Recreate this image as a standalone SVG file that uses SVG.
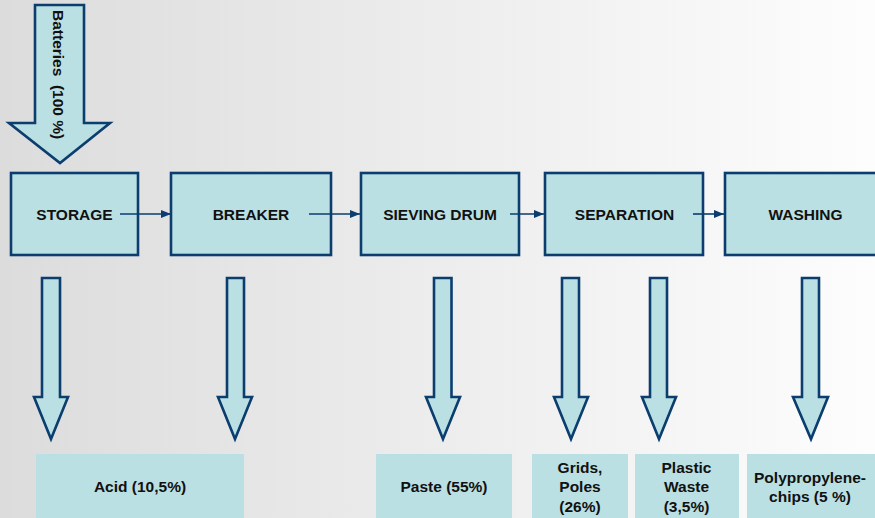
<svg xmlns="http://www.w3.org/2000/svg" width="875" height="518" viewBox="0 0 875 518">
<defs>
<linearGradient id="bg" x1="0" y1="0" x2="1" y2="0">
<stop offset="0" stop-color="#dcdcdc"/>
<stop offset="0.45" stop-color="#ebebeb"/>
<stop offset="1" stop-color="#fdfdfd"/>
</linearGradient>
<marker id="ah" markerWidth="10" markerHeight="8" refX="10" refY="4" orient="auto" markerUnits="userSpaceOnUse">
<path d="M0,0 L10,4 L0,8 Z" fill="#0b3d6e"/>
</marker>
<style>
.box{fill:#bbe0e3;stroke:#0b3d6e;stroke-width:2.6}
.out{fill:#bbe0e3;stroke:none}
.arr{fill:#bbe0e3;stroke:#0b3d6e;stroke-width:2.6;stroke-linejoin:miter}
.lbl{font-family:"Liberation Sans",Arial,sans-serif;font-weight:bold;font-size:15.5px;fill:#111;text-anchor:middle}
.con{stroke:#0b3d6e;stroke-width:1.6;fill:none;marker-end:url(#ah)}
</style>
</defs>
<rect x="0" y="0" width="875" height="518" fill="url(#bg)"/>

<g id="batteries">
<polygon class="arr" points="35,5 84,5 84,123 110,123 60,163 9,123 35,123"/>
<text class="lbl" style="text-anchor:start" transform="translate(53,10) rotate(90)" xml:space="preserve">Batteries  (100 %)</text>
</g>

<g id="storage">
<rect class="box" x="11" y="173" width="127" height="82"/>
<text class="lbl" x="74.5" y="220">STORAGE</text>
</g>
<g id="breaker">
<rect class="box" x="171" y="173" width="160" height="82"/>
<text class="lbl" x="251" y="220">BREAKER</text>
</g>
<g id="sieving">
<rect class="box" x="361" y="173" width="158" height="82"/>
<text class="lbl" x="440" y="220">SIEVING DRUM</text>
</g>
<g id="separation">
<rect class="box" x="545" y="173" width="158" height="82"/>
<text class="lbl" x="624.5" y="220">SEPARATION</text>
</g>
<g id="washing">
<rect class="box" x="725" y="173" width="160" height="82"/>
<text class="lbl" x="805.5" y="220">WASHING</text>
</g>

<g id="connectors">
<line class="con" x1="120" y1="214" x2="171" y2="214"/>
<line class="con" x1="309" y1="214" x2="360" y2="214"/>
<line class="con" x1="510" y1="214" x2="544" y2="214"/>
<line class="con" x1="693" y1="214" x2="724" y2="214"/>
</g>

<g id="out-arrows">
<polygon class="arr" points="42,278 60,278 60,397 68,397 51,439 34,397 42,397"/>
<polygon class="arr" points="227,278 244,278 244,397 252,397 235,439 218,397 227,397"/>
<polygon class="arr" points="434,278 451.5,278 451.5,397 460,397 443,439 426,397 434,397"/>
<polygon class="arr" points="562,278 579,278 579,397 588,397 571,439 554,397 562,397"/>
<polygon class="arr" points="650,278 667,278 667,397 676,397 659,439 642,397 650,397"/>
<polygon class="arr" points="802,278 819,278 819,397 828,397 811,439 793,397 802,397"/>
</g>

<g id="acid">
<rect class="out" x="36" y="454" width="208" height="70"/>
<text class="lbl" x="140" y="492">Acid (10,5%)</text>
</g>
<g id="paste">
<rect class="out" x="376" y="454" width="136" height="70"/>
<text class="lbl" x="444" y="492">Paste (55%)</text>
</g>
<g id="grids">
<rect class="out" x="532" y="454" width="96" height="70"/>
<text class="lbl" x="580" y="473">Grids,</text>
<text class="lbl" x="580" y="492">Poles</text>
<text class="lbl" x="580" y="511.5">(26%)</text>
</g>
<g id="plastic">
<rect class="out" x="635" y="454" width="104" height="70"/>
<text class="lbl" x="686.5" y="473">Plastic</text>
<text class="lbl" x="686.5" y="492">Waste</text>
<text class="lbl" x="686.5" y="511.5">(3,5%)</text>
</g>
<g id="polypropylene">
<rect class="out" x="747" y="454" width="140" height="70"/>
<text class="lbl" x="810" y="483">Polypropylene-</text>
<text class="lbl" x="810" y="502">chips (5 %)</text>
</g>
</svg>
